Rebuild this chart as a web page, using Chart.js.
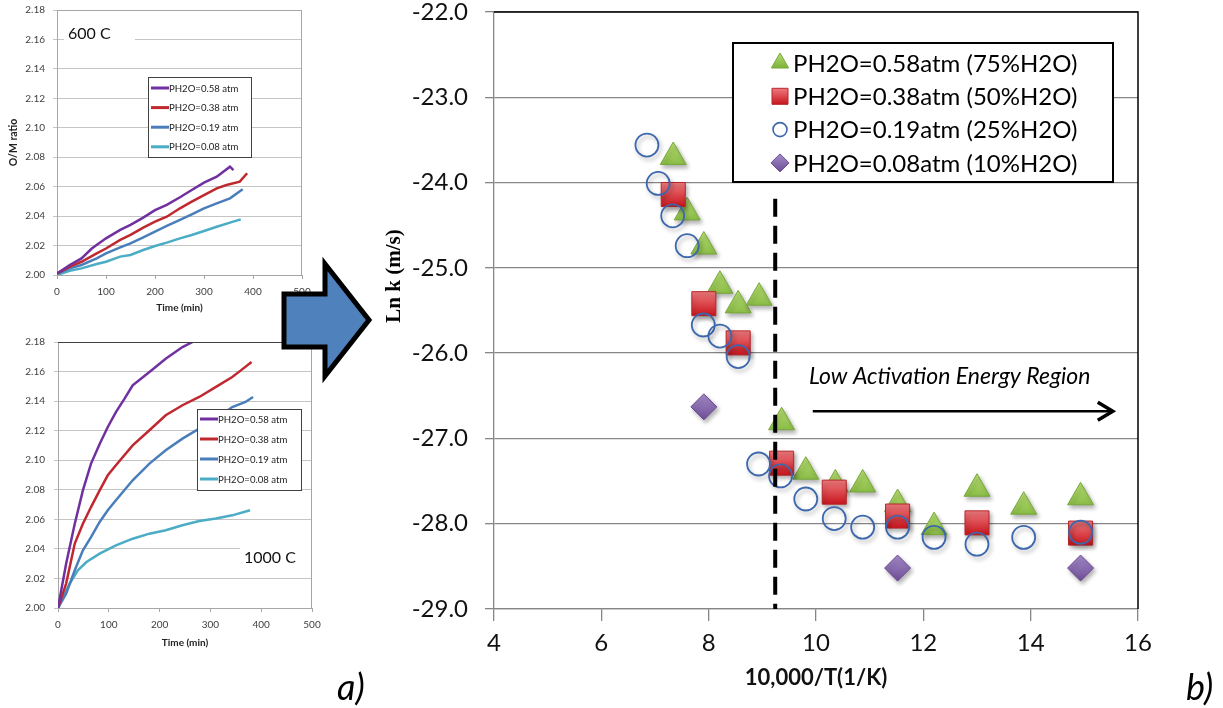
<!DOCTYPE html>
<html>
<head>
<meta charset="utf-8">
<script src="https://cdn.jsdelivr.net/npm/chart.js@4.4.1/dist/chart.umd.min.js"></script>
<style>
  body { margin: 0; background: #fff; width: 1223px; height: 708px; position: relative; overflow: hidden; }
  canvas { position: absolute; }
  .txt { position: absolute; white-space: nowrap; color: #000; }
</style>
</head>
<body>
<canvas id="chart600" width="320" height="325" style="left:0;top:0"></canvas>
<canvas id="chart1000" width="330" height="320" style="left:0;top:330px"></canvas>
<canvas id="mainChart" width="843" height="708" style="left:380px;top:0"></canvas>

<svg width="1223" height="708" style="position:absolute;left:0;top:0;pointer-events:none">
  <polygon points="284,294 325,294 325,264 369,320 325,376 325,347 284,347" fill="#4f81bd" stroke="#000" stroke-width="5" stroke-linejoin="miter"/>
</svg>

<div class="txt" style="left:393px;top:276px;transform:translate(-50%,-50%) rotate(-90deg);font:bold 21px 'Liberation Serif'">Ln k (m/s)</div>
<div class="txt" style="left:337px;top:668px;font:italic 36px/36px Lato">a)</div>
<div class="txt" style="left:1186px;top:668px;font:italic 36px/36px Lato">b)</div>

<script>
// ---- panel a) O/M ratio vs time, 600 C ----
const labelsSmall = ['PH2O=0.58 atm', 'PH2O=0.38 atm', 'PH2O=0.19 atm', 'PH2O=0.08 atm'];
const colorsSmall = ['#7030a0', '#c0282f', '#4a7ebb', '#4bacc6'];

const t600_058 = [0, 26, 50, 71, 100, 129, 150, 176, 200, 224, 251, 275, 300, 326, 353, 360];
const v600_058 = [2.001, 2.0068, 2.0113, 2.018, 2.0249, 2.0306, 2.034, 2.039, 2.044, 2.0476, 2.0528, 2.0577, 2.0627, 2.0668, 2.0736, 2.0713];
const t600_038 = [0, 26, 50, 81, 100, 129, 150, 176, 200, 224, 251, 275, 300, 326, 346, 373, 388];
const v600_038 = [2.001, 2.0057, 2.009, 2.0147, 2.018, 2.0238, 2.0272, 2.0322, 2.0362, 2.0396, 2.0453, 2.0498, 2.0543, 2.0589, 2.0611, 2.0634, 2.0691];
const t600_019 = [0, 26, 50, 81, 100, 129, 150, 176, 200, 224, 251, 275, 300, 326, 353, 379];
const v600_019 = [2.001, 2.0045, 2.0068, 2.0113, 2.0147, 2.0188, 2.0215, 2.0256, 2.0294, 2.0333, 2.0374, 2.0412, 2.0453, 2.0487, 2.0521, 2.0582];
const t600_008 = [0, 26, 50, 81, 100, 129, 150, 176, 200, 224, 251, 275, 300, 326, 353, 375];
const v600_008 = [2.000, 2.0029, 2.0045, 2.0075, 2.009, 2.0125, 2.0136, 2.017, 2.0197, 2.022, 2.0249, 2.0272, 2.0299, 2.0328, 2.0356, 2.0378];

// ---- panel a) O/M ratio vs time, 1000 C ----
const t1000_058 = [0, 16, 33, 49, 65, 82, 98, 114, 131, 147, 180, 212, 245, 265];
const v1000_058 = [2.000, 2.030, 2.057, 2.0796, 2.0977, 2.111, 2.1225, 2.1326, 2.1417, 2.1507, 2.1597, 2.1687, 2.1766, 2.180];
const t1000_038 = [0, 16, 33, 49, 65, 82, 98, 114, 147, 180, 212, 245, 278, 311, 343, 360, 381];
const v1000_038 = [2.000, 2.0165, 2.0436, 2.057, 2.0683, 2.0796, 2.0898, 2.0966, 2.110, 2.1203, 2.1304, 2.1372, 2.1428, 2.1496, 2.1563, 2.1608, 2.1665];
const t1000_019 = [0, 16, 33, 49, 65, 82, 98, 114, 147, 180, 212, 245, 278, 311, 343, 369, 384];
const v1000_019 = [2.000, 2.0097, 2.0255, 2.039, 2.048, 2.0582, 2.0661, 2.0729, 2.0864, 2.0977, 2.1067, 2.1146, 2.1214, 2.1281, 2.136, 2.1394, 2.1428];
const t1000_008 = [0, 10, 23, 39, 56, 82, 114, 147, 180, 212, 245, 278, 311, 343, 378];
const v1000_008 = [2.000, 2.0074, 2.0165, 2.0255, 2.0311, 2.0368, 2.0424, 2.0469, 2.0503, 2.0526, 2.056, 2.0589, 2.0605, 2.0627, 2.0661];

// ---- panel b) Ln k vs 10,000/T ----
const labelsMain = ['PH2O=0.58atm (75%H2O)', 'PH2O=0.38atm (50%H2O)', 'PH2O=0.19atm (25%H2O)', 'PH2O=0.08atm (10%H2O)'];
const x058 = [7.34, 7.60, 7.91, 8.21, 8.55, 8.94, 9.36, 9.81, 10.36, 10.87, 11.52, 12.20, 13.00, 13.87, 14.93];
const y058 = [-23.70, -24.35, -24.75, -25.21, -25.44, -25.35, -26.81, -27.39, -27.54, -27.54, -27.77, -28.04, -27.59, -27.80, -27.69];
const x038 = [7.34, 7.91, 8.55, 9.36, 10.34, 11.52, 13.00, 14.93];
const y038 = [-24.14, -25.42, -25.88, -27.29, -27.63, -27.91, -27.99, -28.11];
const x019 = [6.85, 7.06, 7.33, 7.60, 7.90, 8.21, 8.55, 8.93, 9.34, 9.81, 10.34, 10.87, 11.52, 12.20, 13.00, 13.87, 14.93];
const y019 = [-23.56, -24.01, -24.39, -24.74, -25.67, -25.80, -26.04, -27.30, -27.44, -27.71, -27.94, -28.04, -28.04, -28.16, -28.24, -28.16, -28.10];
const x008 = [7.91, 11.52, 14.93];
const y008 = [-26.63, -28.52, -28.52];

// annotation positions (data units)
const dividerX = 9.24, dividerTop = -24.19, dividerBottom = -29;
const arrowFrom = 9.94, arrowTo = 15.53, arrowY = -26.68;
const regionLabel = 'Low Activation Energy Region';
const regionX = 9.87, regionY = -26.36;

Chart.defaults.font.family = 'Lato, sans-serif';

const pts = (xs, ys) => xs.map((v, i) => ({x: v, y: ys[i]}));

function vGrad(c0, c1, r) {
  return ctx => {
    const chart = ctx.chart;
    const ys = chart.scales && chart.scales.y;
    if (!ctx.parsed || !ys) return c1;
    const py = ys.getPixelForValue(ctx.parsed.y);
    if (!isFinite(py)) return c1;
    const g = chart.ctx.createLinearGradient(0, py - r, 0, py + r);
    g.addColorStop(0, c0);
    g.addColorStop(1, c1);
    return g;
  };
}

// keep label overflow from pushing the plot area around
function fixWidth(w) {
  return s => { s.width = w; s.paddingTop = 0; s.paddingBottom = 0; };
}

// little boxed legend with line samples
function lineLegend(box) {
  return {
    id: 'lineLegend',
    afterDraw(chart) {
      const c = chart.ctx;
      c.save();
      c.fillStyle = '#fff';
      c.fillRect(box.x, box.y, box.w, box.h);
      c.strokeStyle = '#404040';
      c.lineWidth = 1;
      c.strokeRect(box.x + 0.5, box.y + 0.5, box.w, box.h);
      c.font = '9.6px Lato';
      c.textBaseline = 'middle';
      labelsSmall.forEach((lab, i) => {
        const yy = box.y + box.first + i * box.step;
        c.strokeStyle = colorsSmall[i];
        c.lineWidth = 3;
        c.beginPath();
        c.moveTo(box.x + 3, yy);
        c.lineTo(box.x + 21, yy);
        c.stroke();
        c.fillStyle = '#222';
        c.fillText(lab, box.x + 21, yy + 0.5);
      });
      c.restore();
    }
  };
}

// temperature tag with white backing
function tagPlugin(text, box) {
  return {
    id: 'tag',
    beforeDatasetsDraw(chart) {
      const c = chart.ctx;
      c.save();
      c.fillStyle = '#fff';
      c.fillRect(box.x, box.y, box.w, box.h);
      c.fillStyle = '#111';
      c.font = '16px Lato';
      c.textBaseline = 'middle';
      c.fillText(text, box.x + 4, box.y + box.h / 2);
      c.restore();
    }
  };
}

function frame(color, topColor) {
  return {
    id: 'frame',
    afterDatasetsDraw(chart) {
      const {ctx, chartArea: a} = chart;
      ctx.save();
      ctx.lineWidth = 1;
      ctx.strokeStyle = topColor;
      ctx.beginPath();
      ctx.moveTo(a.left, a.top + 0.5);
      ctx.lineTo(a.right, a.top + 0.5);
      ctx.stroke();
      ctx.strokeStyle = color;
      ctx.beginPath();
      ctx.moveTo(a.right - 0.5, a.top);
      ctx.lineTo(a.right - 0.5, a.bottom);
      ctx.stroke();
      ctx.restore();
    }
  };
}

function omChart(id, ts, vs, cfg, extra) {
  return new Chart(document.getElementById(id), {
    type: 'line',
    data: {
      datasets: labelsSmall.map((lab, i) => ({
        label: lab,
        data: pts(ts[i], vs[i]),
        borderColor: colorsSmall[i],
        borderWidth: 2.5,
        pointRadius: 0,
        tension: 0,
        fill: false
      }))
    },
    options: {
      responsive: false,
      animation: false,
      layout: {padding: cfg.padding, autoPadding: false},
      plugins: {legend: {display: false}, tooltip: {enabled: false}},
      scales: {
        x: {
          type: 'linear', min: 0, max: 500,
          ticks: {stepSize: 100, font: {size: 10}, color: '#404040', padding: cfg.xPad},
          grid: {drawOnChartArea: false, tickLength: 4, color: '#a6a6a6'},
          border: {color: '#a6a6a6'},
          title: {display: true, text: 'Time (min)', font: {size: 10, weight: 'bold'}, color: '#222', padding: {top: 0, bottom: cfg.xTitlePad}},
          afterFit: s => { s.height = cfg.xHeight; }
        },
        y: {
          min: 2, max: 2.18,
          ticks: {stepSize: 0.02, callback: v => v.toFixed(2), font: {size: 10}, color: '#404040', padding: cfg.yPad},
          grid: {color: '#c4c4c4', tickLength: 4},
          border: {color: '#a6a6a6'},
          title: {display: !!cfg.yTitle, text: cfg.yTitle || '', font: {size: 10.5, weight: 'bold'}, color: '#222', padding: {top: 7.7, bottom: 0}},
          afterFit: fixWidth(cfg.yWidth)
        }
      }
    },
    plugins: extra
  });
}

omChart('chart600',
  [t600_058, t600_038, t600_019, t600_008],
  [v600_058, v600_038, v600_019, v600_008],
  {padding: {left: 0, top: 10, right: 18, bottom: 0}, xPad: 7, xTitlePad: 11, xHeight: 50, yPad: 8, yWidth: 57, yTitle: 'O/M ratio'},
  [tagPlugin('600 C', {x: 64, y: 23, w: 71, h: 21}), frame('#a6a6a6', '#a6a6a6'), lineLegend({x: 148, y: 77, w: 103, h: 80, first: 11, step: 19.6})]);

omChart('chart1000',
  [t1000_058, t1000_038, t1000_019, t1000_008],
  [v1000_058, v1000_038, v1000_019, v1000_008],
  {padding: {left: 0, top: 12, right: 18, bottom: 0}, xPad: 7, xTitlePad: 1, xHeight: 42, yPad: 9, yWidth: 58},
  [tagPlugin('1000 C', {x: 240, y: 216, w: 71, h: 24}), frame('#a6a6a6', '#404040'), lineLegend({x: 197, y: 79, w: 104, h: 81, first: 10, step: 20})]);

// ---- main chart ----
const markerShadow = {
  id: 'markerShadow',
  beforeDatasetsDraw(chart) {
    const c = chart.ctx;
    c.save();
    c.shadowColor = 'rgba(0,0,0,0.3)';
    c.shadowBlur = 4;
    c.shadowOffsetX = 2;
    c.shadowOffsetY = 3;
  },
  afterDatasetsDraw(chart) {
    chart.ctx.restore();
  }
};

function drawMarker(c, style, x, y) {
  c.beginPath();
  if (style === 'triangle') {
    const r = 10;
    c.moveTo(x, y - r);
    c.lineTo(x + r * 0.866, y + r / 2);
    c.lineTo(x - r * 0.866, y + r / 2);
    c.closePath();
    const g = c.createLinearGradient(0, y - r, 0, y + r / 2);
    g.addColorStop(0, '#b5dc72'); g.addColorStop(1, '#7db239');
    c.fillStyle = g; c.fill();
    c.strokeStyle = '#77a83a'; c.lineWidth = 1; c.stroke();
  } else if (style === 'rect') {
    const h = 8;
    c.rect(x - h, y - h, 2 * h, 2 * h);
    const g = c.createLinearGradient(0, y - h, 0, y + h);
    g.addColorStop(0, '#ee7a7d'); g.addColorStop(1, '#c8151d');
    c.fillStyle = g; c.fill();
    c.strokeStyle = '#b5262c'; c.lineWidth = 1; c.stroke();
  } else if (style === 'circle') {
    c.arc(x, y, 7, 0, Math.PI * 2);
    c.strokeStyle = '#3d68ad'; c.lineWidth = 1.6; c.stroke();
  } else {
    const r = 9;
    c.moveTo(x, y - r); c.lineTo(x + r, y); c.lineTo(x, y + r); c.lineTo(x - r, y); c.closePath();
    const g = c.createLinearGradient(0, y - r, 0, y + r);
    g.addColorStop(0, '#a58bc8'); g.addColorStop(1, '#6e4e97');
    c.fillStyle = g; c.fill();
    c.strokeStyle = '#6a4a94'; c.lineWidth = 1; c.stroke();
  }
}

const mainDecor = {
  id: 'mainDecor',
  afterDatasetsDraw(chart) {
    const {ctx, scales: {x, y}} = chart;
    ctx.save();
    const dx = x.getPixelForValue(dividerX);
    ctx.strokeStyle = '#000';
    ctx.lineWidth = 4;
    ctx.setLineDash([18, 9]);
    ctx.beginPath();
    ctx.moveTo(dx, y.getPixelForValue(dividerTop));
    ctx.lineTo(dx, y.getPixelForValue(dividerBottom));
    ctx.stroke();
    ctx.setLineDash([]);

    const ax0 = x.getPixelForValue(arrowFrom), ax1 = x.getPixelForValue(arrowTo), ay = y.getPixelForValue(arrowY);
    ctx.lineWidth = 2.5;
    ctx.beginPath();
    ctx.moveTo(ax0, ay);
    ctx.lineTo(ax1 - 2, ay);
    ctx.stroke();
    ctx.lineWidth = 3.5;
    ctx.beginPath();
    ctx.moveTo(ax1 - 15, ay - 9);
    ctx.lineTo(ax1, ay);
    ctx.lineTo(ax1 - 15, ay + 9);
    ctx.stroke();

    ctx.fillStyle = '#000';
    ctx.font = 'italic 23px Lato';
    ctx.textBaseline = 'alphabetic';
    ctx.fillText(regionLabel, x.getPixelForValue(regionX), y.getPixelForValue(regionY));
    ctx.restore();
  },
  afterDraw(chart) {
    const {ctx, chartArea: a} = chart;
    ctx.save();
    // black frame on top and right
    ctx.strokeStyle = '#000';
    ctx.lineWidth = 1.5;
    ctx.beginPath();
    ctx.moveTo(a.left, a.top);
    ctx.lineTo(a.right, a.top);
    ctx.lineTo(a.right, a.bottom);
    ctx.stroke();

    // legend box
    const bx = a.left + 239, by = a.top + 31, bw = 380, bh = 139;
    ctx.fillStyle = '#fff';
    ctx.fillRect(bx, by, bw, bh);
    ctx.strokeStyle = '#000';
    ctx.lineWidth = 2;
    ctx.strokeRect(bx, by, bw, bh);
    const styles = ['triangle', 'rect', 'circle', 'rectRot'];
    ctx.font = '24px Lato';
    ctx.textBaseline = 'middle';
    labelsMain.forEach((lab, i) => {
      const yy = by + 20 + i * 33.3;
      drawMarker(ctx, styles[i], bx + 47, yy);
      ctx.fillStyle = '#000';
      ctx.fillText(lab, bx + 60, yy + 1);
    });
    ctx.restore();
  }
};

new Chart(document.getElementById('mainChart'), {
  type: 'scatter',
  data: {
    datasets: [
      {label: labelsMain[0], data: pts(x058, y058), pointStyle: 'triangle', pointRadius: 15,
        backgroundColor: vGrad('#b5dc72', '#7db239', 15), borderColor: '#77a83a', borderWidth: 1, order: 4},
      {label: labelsMain[1], data: pts(x038, y038), pointStyle: 'rect', pointRadius: 17,
        backgroundColor: vGrad('#ee7a7d', '#c8151d', 12), borderColor: '#b5262c', borderWidth: 1, order: 3},
      {label: labelsMain[2], data: pts(x019, y019), pointStyle: 'circle', pointRadius: 11.5,
        backgroundColor: 'rgba(0,0,0,0)', borderColor: '#3d68ad', borderWidth: 1.8, order: 2},
      {label: labelsMain[3], data: pts(x008, y008), pointStyle: 'rectRot', pointRadius: 13,
        backgroundColor: vGrad('#a58bc8', '#6e4e97', 13), borderColor: '#6a4a94', borderWidth: 1, order: 1}
    ]
  },
  options: {
    responsive: false,
    animation: false,
    layout: {padding: {left: 0, top: 12, right: 85, bottom: 0}, autoPadding: false},
    plugins: {legend: {display: false}, tooltip: {enabled: false}},
    scales: {
      x: {
        type: 'linear', min: 4, max: 16,
        ticks: {stepSize: 2, font: {size: 24}, color: '#111', padding: 8},
        grid: {drawOnChartArea: false, tickLength: 12, color: '#868686', lineWidth: 1.3},
        border: {color: '#868686', width: 1.3},
        title: {display: true, text: '10,000/T(1/K)', font: {size: 22, weight: 'bold'}, color: '#111', padding: {top: 0, bottom: 17}},
        afterFit: s => { s.height = 99; }
      },
      y: {
        min: -29, max: -22,
        ticks: {stepSize: 1, callback: v => v.toFixed(1), font: {size: 24}, color: '#111', padding: 17},
        grid: {color: '#868686', lineWidth: 1.3, tickLength: 9},
        border: {color: '#868686', width: 1.3},
        afterFit: fixWidth(114)
      }
    }
  },
  plugins: [markerShadow, mainDecor]
});
</script>
</body>
</html>
